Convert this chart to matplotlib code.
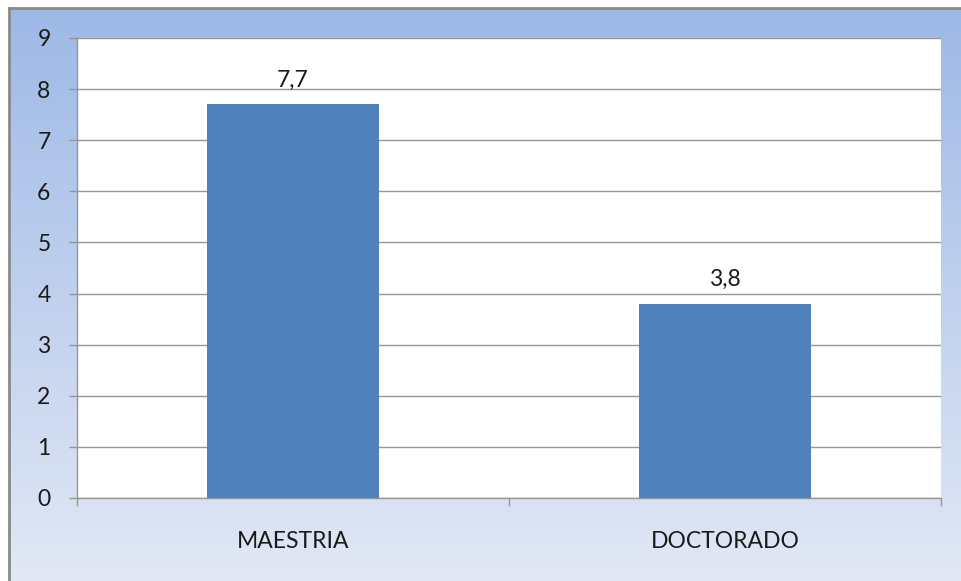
import numpy as np
import matplotlib
matplotlib.use("Agg")
import matplotlib.pyplot as plt
from matplotlib.colors import LinearSegmentedColormap

categories = ["MAESTRIA", "DOCTORADO"]
values = [7.7, 3.8]
value_labels = ["7,7", "3,8"]
yticks = list(range(0, 10))

plt.rcParams["font.family"] = ["Lato", "DejaVu Sans"]

W, H = 961, 581
fig = plt.figure(figsize=(W / 100, H / 100), dpi=100)
fig.patch.set_facecolor("white")

# gradient background panel
bg = fig.add_axes([9 / W, 0, 1 - 9 / W, 1 - 8 / H])
cmap = LinearSegmentedColormap.from_list("bg", ["#E2E8F5", "#9DB9E6"])
grad = np.linspace(0, 1, 256).reshape(-1, 1)
bg.imshow(grad, aspect="auto", cmap=cmap, origin="lower", extent=[0, 1, 0, 1])
bg.set_xlim(0, 1)
bg.set_ylim(0, 1)
bg.set_xticks([])
bg.set_yticks([])
for s in ["right", "bottom"]:
    bg.spines[s].set_visible(False)
for s in ["left", "top"]:
    bg.spines[s].set_color("#8A8A8A")
    bg.spines[s].set_linewidth(2)

ax = fig.add_axes([77 / W, 1 - 498 / H, (941 - 77) / W, (498 - 38) / H])
ax.set_facecolor("white")
x = np.arange(len(categories))
ax.bar(x, values, width=0.4, color="#4F81BD", zorder=3)
ax.set_xlim(-0.5, len(categories) - 0.5)
ax.set_ylim(0, 9)
ax.set_yticks(yticks)
ax.grid(axis="y", color="#969696", linewidth=1, zorder=0)
ax.set_xticks(x)
ax.set_xticklabels(categories)
ax.set_xticks([-0.5, 0.5, 1.5], minor=True)
ax.tick_params(axis="x", which="major", length=0, pad=24, labelsize=16.5, labelcolor="#1a1a1a")
ax.tick_params(axis="x", which="minor", length=6, width=1, color="#969696")
ax.tick_params(axis="y", length=6, width=1, color="#969696", pad=13, labelsize=16.5, labelcolor="#1a1a1a")
for s in ["top", "right"]:
    ax.spines[s].set_visible(False)
for s in ["left", "bottom"]:
    ax.spines[s].set_color("#969696")
    ax.spines[s].set_linewidth(1)

for xi, v, lab in zip(x, values, value_labels):
    ax.annotate(lab, (xi, v), xytext=(0, 10), textcoords="offset points",
                ha="center", va="bottom", fontsize=16.5, color="#1a1a1a")

fig.savefig("out.png", dpi=100)
